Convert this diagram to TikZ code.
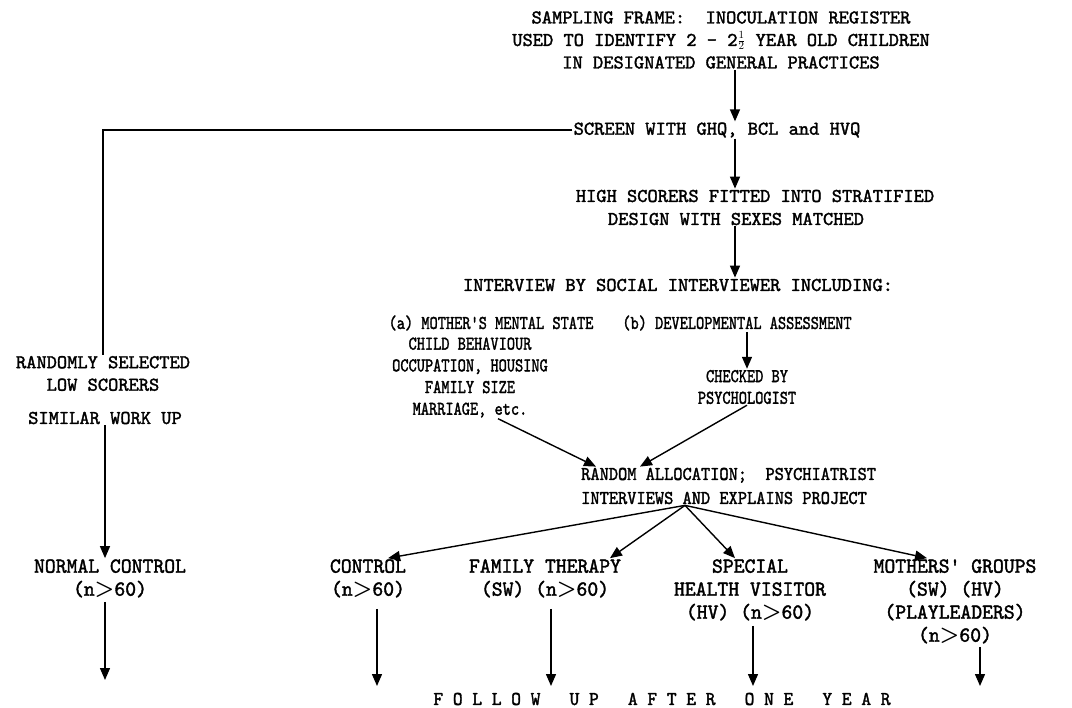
\documentclass[tikz,border=0pt]{standalone}
\usepackage{graphicx}
\usepackage{fontspec}
\newfontfamily\tw{lmmono10-regular.otf}[FakeBold=1.8]
\usetikzlibrary{arrows.meta,calc}
\newcommand{\sx}[2]{\scalebox{#1}[1]{#2}}
\newcommand{\bl}[1]{\scalebox{1.06}[1.1]{#1}}
\newcommand{\half}{{\fontsize{15}{15}\selectfont\raisebox{1.5pt}{$\frac{1}{2}$}}}
\newcommand{\gt}{{\boldmath$>$}}
\tikzset{
 tx/.style={font=\tw\fontsize{19.5}{22.5}\selectfont, align=center, inner sep=1pt},
 txb/.style={font=\tw\fontsize{19.5}{23}\selectfont, align=center, inner sep=1pt},
 txa/.style={font=\tw\fontsize{19.5}{21.7}\selectfont, align=center, inner sep=1pt},
 arr/.style={line width=1.4pt, -{Triangle[width=10pt,length=12pt]}},
 ln/.style={line width=1.4pt},
}
\begin{document}
\begin{tikzpicture}[x=1pt,y=-1pt]
\fill[white] (0,0) rectangle (1072,708);
\useasboundingbox (0,0) rectangle (1072,708);
\coordinate (spine) at (735,0);
\node[tx] (top) at (721,40) {SAMPLING FRAME:~~INOCULATION REGISTER\\USED TO IDENTIFY 2 - 2\half{} YEAR OLD CHILDREN\\IN DESIGNATED GENERAL PRACTICES};
\node[tx] (screen) at (717,130) {SCREEN WITH GHQ, BCL and HVQ};
\node[tx] (high1) at (755,196) {HIGH SCORERS FITTED INTO STRATIFIED};
\node[tx] (high2) at (736,219) {DESIGN WITH SEXES MATCHED};
\node[tx] (interview) at (678,285) {INTERVIEW BY SOCIAL INTERVIEWER INCLUDING:};
\node[tx] (amain) at (491,323) {\sx{0.8}{(a) MOTHER'S MENTAL STATE}};
\node[txa] (alist) at (470,377.5) {\sx{0.8}{CHILD BEHAVIOUR}\\\sx{0.8}{OCCUPATION, HOUSING}\\\sx{0.8}{FAMILY SIZE}\\\sx{0.8}{MARRIAGE, etc.}};
\node[tx] (b) at (737,323) {\sx{0.8}{(b) DEVELOPMENTAL ASSESSMENT}};
\node[txa] (checked) at (747,387) {\sx{0.8}{CHECKED BY}\\\sx{0.8}{PSYCHOLOGIST}};
\node[tx, align=left, anchor=west, font=\tw\fontsize{19.5}{24}\selectfont] (rand) at (580,486) {\sx{0.9}{RANDOM ALLOCATION;~~PSYCHIATRIST}\\\sx{0.9}{INTERVIEWS AND EXPLAINS PROJECT}};
\node[tx] (low) at (103,373.5) {RANDOMLY SELECTED\\LOW SCORERS};
\node[tx] (similar) at (105,418) {SIMILAR WORK UP};
\node[txb] (normal) at (110,578.5) {\bl{NORMAL CONTROL}\\\bl{(n\gt60)}};
\node[txb] (control) at (368,578.5) {\bl{CONTROL}\\\bl{(n\gt60)}};
\node[txb] (family) at (545,578.5) {\bl{FAMILY THERAPY}\\\bl{(SW) (n\gt60)}};
\node[txb] (special) at (750,590) {\bl{SPECIAL}\\\bl{HEALTH VISITOR}\\\bl{(HV) (n\gt60)}};
\node[txb] (mothers) at (955,601.5) {\bl{MOTHERS' GROUPS}\\\bl{(SW) (HV)}\\\bl{(PLAYLEADERS)}\\\bl{(n\gt60)}};
\node[tx] (follow) at (662,699) {\sx{0.95}{F~O~L~L~O~W~~~U~P~~~A~F~T~E~R~~~O~N~E~~~Y~E~A~R}};
\coordinate (e0) at (105,680);
\coordinate (e1) at (377,686);
\coordinate (e2) at (551,686);
\coordinate (e3) at (753,686);
\coordinate (e4) at (980,686);
\coordinate (hub) at ([xshift=105pt]rand.south west);
\draw[arr] (top.south -| spine) -- (screen.north -| spine);
\draw[arr] (screen.south -| spine) -- (high1.north -| spine);
\draw[arr] (high2.south -| spine) -- (interview.north -| spine);
\draw[ln] (screen.west) -| (low.north);
\draw[arr] (b.south -| checked.north) -- (checked.north);
\draw[arr] ([xshift=28pt]alist.south) -- ([xshift=16pt]rand.north west);
\draw[arr] (checked.south) -- ([xshift=60pt]rand.north west);
\draw[arr] (hub) -- ([xshift=20pt]control.north);
\draw[arr] (hub) -- ([xshift=65pt]family.north);
\draw[arr] (hub) -- ([xshift=-15pt]special.north);
\draw[arr] (hub) -- ([xshift=-28pt]mothers.north);
\draw[arr] (similar.south -| e0) -- (normal.north -| e0);
\draw[arr, shorten <=3pt] (normal.south -| e0) -- (e0);
\draw[arr, shorten <=10pt] (control.south -| e1) -- (e1);
\draw[arr, shorten <=10pt] (family.south -| e2) -- (e2);
\draw[arr, shorten <=4pt] (special.south -| e3) -- (e3);
\draw[arr, shorten <=2pt] (mothers.south -| e4) -- (e4);
\end{tikzpicture}
\end{document}
